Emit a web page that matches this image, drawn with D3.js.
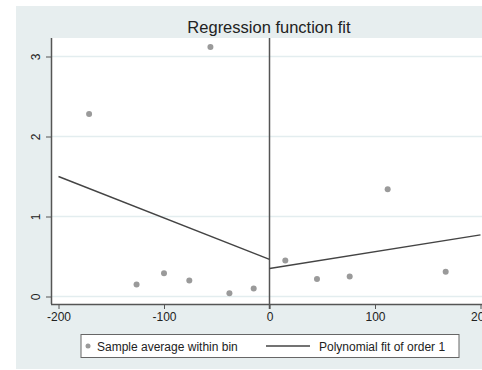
<!DOCTYPE html>
<html>
<head>
<meta charset="utf-8">
<script src="https://cdn.jsdelivr.net/npm/d3@7"></script>
<style>
  html, body { margin: 0; padding: 0; background: #fff; }
  svg { display: block; font-family: "Liberation Sans", Arial, sans-serif; }
</style>
</head>
<body>
<svg width="482" height="370"></svg>
<script>
// bin averages
const binX = [-171, -56, -126, -100, -76, -38, -15, 15, 45, 76, 112, 167];
const binY = [2.28, 3.12, 0.15, 0.29, 0.20, 0.04, 0.10, 0.45, 0.22, 0.25, 1.34, 0.31];

// linear fits each side of the cutoff
const fitLeft = [[-200, 1.50], [0, 0.465]];
const fitRight = [[0, 0.35], [200, 0.77]];

const xTicks = [-200, -100, 0, 100, 200];
const yTicks = [0, 1, 2, 3];

const svg = d3.select("svg");

// outer panel
svg.append("rect")
    .attr("x", 16).attr("y", 6)
    .attr("width", 470).attr("height", 363)
    .attr("fill", "#e7eeef");

const x = d3.scaleLinear().domain([-200, 200]).range([58.5, 480.5]);
const y = d3.scaleLinear().domain([0, 3]).range([296.5, 56.5]);

const plotTop = 38, plotBottom = 304, plotLeft = 51;

svg.append("rect")
    .attr("x", plotLeft).attr("y", plotTop)
    .attr("width", 482 - plotLeft).attr("height", plotBottom - plotTop)
    .attr("fill", "#fff");

// gridlines
svg.append("g")
    .selectAll("line")
    .data(yTicks)
    .join("line")
    .attr("x1", plotLeft).attr("x2", 482)
    .attr("y1", d => y(d)).attr("y2", d => y(d))
    .attr("stroke", "#e3edef")
    .attr("stroke-width", 1.5);

svg.append("text")
    .attr("x", 269).attr("y", 33)
    .attr("text-anchor", "middle")
    .attr("font-size", 16.5)
    .attr("fill", "#222")
    .text("Regression function fit");

// axes
const plain = d => String(d);
const xAxis = svg.append("g")
    .attr("transform", `translate(0,${plotBottom})`)
    .call(d3.axisBottom(x).tickValues(xTicks).tickFormat(plain)
        .tickSize(5).tickSizeOuter(0).tickPadding(3));
xAxis.select(".domain").attr("d", `M${plotLeft},0.5H482`);

const yAxis = svg.append("g")
    .attr("transform", `translate(${plotLeft},0)`)
    .call(d3.axisLeft(y).tickValues(yTicks).tickFormat(plain)
        .tickSize(5).tickSizeOuter(0));
yAxis.select(".domain").attr("d", `M0.5,${plotTop}V${plotBottom}`);
yAxis.selectAll(".tick text")
    .attr("x", 0).attr("dy", 0)
    .attr("text-anchor", "middle")
    .attr("transform", "translate(-11,0) rotate(-90)");

[xAxis, yAxis].forEach(a => {
    a.selectAll(".domain").attr("stroke", "#555").attr("stroke-width", 1.5);
    a.selectAll(".tick line").attr("stroke", "#555");
    a.selectAll(".tick text").attr("font-size", 12).attr("fill", "#222")
        .attr("font-family", "Liberation Sans, Arial, sans-serif");
});

// cutoff line
svg.append("line")
    .attr("x1", x(0)).attr("x2", x(0))
    .attr("y1", plotTop).attr("y2", plotBottom + 5)
    .attr("stroke", "#555").attr("stroke-width", 1.5);

// fitted lines
const line = d3.line().x(d => x(d[0])).y(d => y(d[1]));
svg.append("g")
    .selectAll("path")
    .data([fitLeft, fitRight])
    .join("path")
    .attr("d", line)
    .attr("fill", "none")
    .attr("stroke", "#444")
    .attr("stroke-width", 1.4);

// bin points
svg.append("g")
    .selectAll("circle")
    .data(binX.map((v, i) => [v, binY[i]]))
    .join("circle")
    .attr("cx", d => x(d[0]))
    .attr("cy", d => y(d[1]))
    .attr("r", 3)
    .attr("fill", "#9a9a9a");

// legend
const lg = svg.append("g");
lg.append("rect")
    .attr("x", 81).attr("y", 334.5)
    .attr("width", 378).attr("height", 23)
    .attr("fill", "#fff").attr("stroke", "#666");
lg.append("circle").attr("cx", 88).attr("cy", 346).attr("r", 2.5).attr("fill", "#9a9a9a");
lg.append("text").attr("x", 97).attr("y", 350.5).attr("font-size", 12).attr("fill", "#222")
    .text("Sample average within bin");
lg.append("line").attr("x1", 266).attr("x2", 310).attr("y1", 346).attr("y2", 346)
    .attr("stroke", "#444").attr("stroke-width", 1.4);
lg.append("text").attr("x", 319).attr("y", 350.5).attr("font-size", 12).attr("fill", "#222")
    .text("Polynomial fit of order 1");
</script>
</body>
</html>
